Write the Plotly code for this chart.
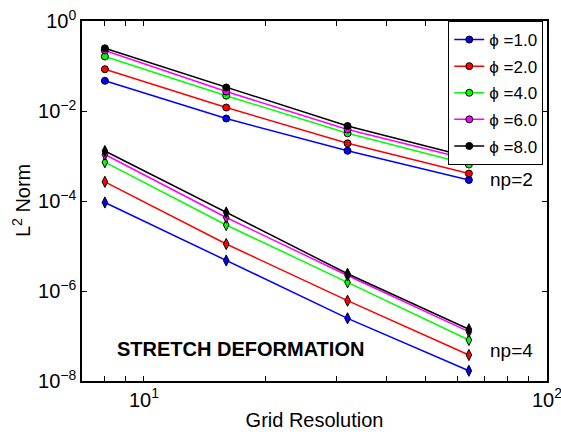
import plotly.graph_objects as go

# Grid resolutions
grid = [8, 16, 32, 64]

# phi values and line colours
phi_labels = ["1.0", "2.0", "4.0", "6.0", "8.0"]
colors = ["#0000ff", "#ff0000", "#00ff00", "#ff00ff", "#000000"]

# L2 error norms, np = 2
np2_phi1 = [0.0469, 0.00681, 0.001305, 0.000293]
np2_phi2 = [0.0849, 0.01196, 0.001915, 0.000408]
np2_phi4 = [0.1626, 0.02188, 0.00320, 0.000647]
np2_phi6 = [0.2211, 0.0271, 0.00388, 0.000836]
np2_phi8 = [0.2473, 0.0333, 0.00464, 0.000950]

# L2 error norms, np = 4
np4_phi1 = [9.26e-5, 4.76e-6, 2.47e-7, 1.69e-8]
np4_phi2 = [2.67e-4, 1.108e-5, 6.09e-7, 3.78e-8]
np4_phi4 = [7.28e-4, 2.93e-5, 1.56e-6, 8.15e-8]
np4_phi6 = [1.08e-3, 4.30e-5, 2.21e-6, 1.25e-7]
np4_phi8 = [1.291e-3, 5.55e-5, 2.42e-6, 1.41e-7]

np2 = [np2_phi1, np2_phi2, np2_phi4, np2_phi6, np2_phi8]
np4 = [np4_phi1, np4_phi2, np4_phi4, np4_phi6, np4_phi8]

# Axis ticks
y_tickvals = [1e0, 1e-2, 1e-4, 1e-6, 1e-8]
y_ticktext = ["10<sup>0</sup>", "10<sup>−2</sup>", "10<sup>−4</sup>",
              "10<sup>−6</sup>", "10<sup>−8</sup>"]
x_tickvals = [10, 100]
x_ticktext = ["10<sup>1</sup>", "10<sup>2</sup>"]
x_minorvals = [8, 9, 20, 30, 40, 50, 60, 70, 80, 90]

FONT = "Liberation Sans, Arial, Helvetica, sans-serif"

fig = go.Figure()

for i, (lab, col) in enumerate(zip(phi_labels, colors)):
    fig.add_trace(go.Scatter(
        x=grid, y=np2[i], mode="lines+markers",
        name=f"ϕ =" + lab, legendgroup=f"g{i}",
        line=dict(color=col, width=1.5),
        marker=dict(symbol="circle", size=7, color=col,
                    line=dict(color="black", width=1)),
    ))

for i, col in enumerate(colors):
    fig.add_trace(go.Scatter(
        x=grid, y=np4[i], mode="lines+markers", showlegend=False,
        line=dict(color=col, width=1.5),
        marker=dict(symbol="diamond-tall", size=8, color=col,
                    line=dict(color="black", width=1)),
    ))

fig.add_annotation(x=1.854, y=-3.511, xref="x", yref="y", text="np=2",
                   showarrow=False, xanchor="left", yanchor="middle",
                   font=dict(size=19, color="black", family=FONT))
fig.add_annotation(x=1.854, y=-7.311, xref="x", yref="y", text="np=4",
                   showarrow=False, xanchor="left", yanchor="middle",
                   font=dict(size=19, color="black", family=FONT))
fig.add_annotation(x=0.928, y=-7.289, xref="x", yref="y",
                   text="<b>STRETCH DEFORMATION</b>",
                   showarrow=False, xanchor="left", yanchor="middle",
                   font=dict(size=20, color="black", family=FONT))

# y-axis title, placed as rotated text left of the tick labels
fig.add_annotation(x=-0.131, y=0.5, xref="paper", yref="paper",
                   text="L<sup>2</sup> Norm", textangle=-90,
                   showarrow=False, xanchor="center", yanchor="middle",
                   font=dict(size=20, color="black", family=FONT))

fig.update_layout(
    width=561, height=432,
    margin=dict(l=82, r=14, t=21, b=51),
    paper_bgcolor="white", plot_bgcolor="white",
    font=dict(family=FONT, size=20, color="black"),
    showlegend=True,
    legend=dict(x=0.992, y=1.0, xanchor="right", yanchor="top",
                bgcolor="white", bordercolor="black", borderwidth=1,
                font=dict(size=17, family=FONT),
                tracegroupgap=1.5, itemwidth=30),
    xaxis=dict(
        type="log", range=[0.8463, 2], automargin=False,
        tickmode="array", tickvals=x_tickvals, ticktext=x_ticktext,
        ticks="inside", ticklen=5, tickcolor="black",
        ticklabeloverflow="allow",
        showline=True, linecolor="black", linewidth=1.5, mirror="allticks",
        showgrid=False, zeroline=False,
        tickfont=dict(size=20, family=FONT),
        minor=dict(tickmode="array", tickvals=x_minorvals, ticks="inside",
                   ticklen=5, tickcolor="black", showgrid=False),
        title=dict(text="Grid Resolution", font=dict(size=20, family=FONT),
                   standoff=3),
    ),
    yaxis=dict(
        type="log", range=[-8, 0], automargin=False,
        tickmode="array", tickvals=y_tickvals, ticktext=y_ticktext,
        ticks="inside", ticklen=5, tickcolor="black",
        ticklabeloverflow="allow",
        showline=True, linecolor="black", linewidth=1.5, mirror="allticks",
        showgrid=False, zeroline=False,
        tickfont=dict(size=20, family=FONT),
    ),
)

fig.write_html("out.html")
